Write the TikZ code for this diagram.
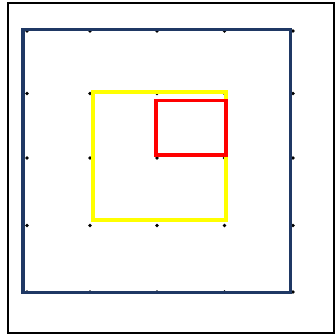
\documentclass[tikz,border=0pt]{standalone}
\definecolor{navy}{RGB}{31,56,100}
\definecolor{brightyellow}{RGB}{255,255,0}
\definecolor{brightred}{RGB}{255,0,0}
\tikzset{
  gridpt/.style={fill=black, inner sep=0pt, minimum size=2.8pt, circle},
  frame/.style={draw=black, line width=1.2pt},
}
\begin{document}
\begin{tikzpicture}[x=0.025cm, y=-0.025cm]
\useasboundingbox (0,0) rectangle (335,335);
% Moldura
\draw[frame] (8,3) rectangle (334,333);
% Pontos da grade
\foreach \gx [count=\i] in {27,90,157,224.5,293}
  \foreach \gy [count=\j] in {31,93.5,158,225.5,292}
    \node[gridpt] (p\i\j) at (\gx,\gy) {};
% Quadrado externo
\draw[navy, line width=2.8pt] (23,29.5) rectangle (290.5,292.5);
% Quadrado amarelo
\draw[brightyellow, line width=2.7pt] (93,92) rectangle (226,220);
% Retangulo vermelho
\draw[brightred, line width=2.8pt] (156,100.5) rectangle (226,154.7);
\end{tikzpicture}
\end{document}
